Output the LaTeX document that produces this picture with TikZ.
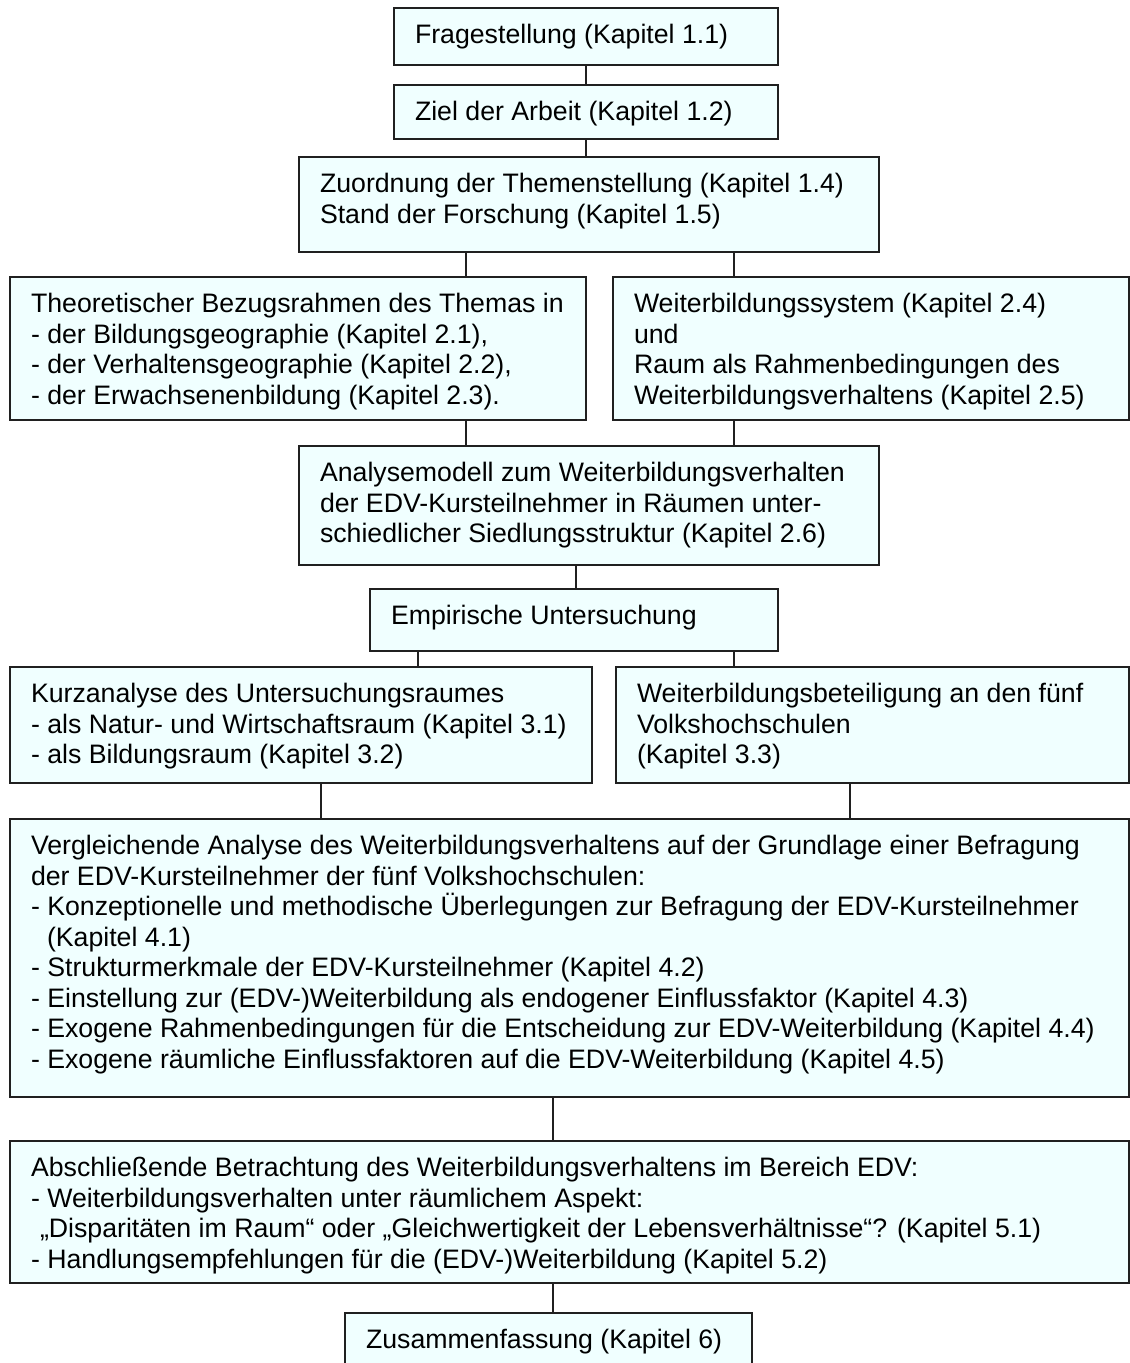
\documentclass[tikz,border=0pt]{standalone}
\usepackage{fontspec}
\setmainfont{Liberation Sans}
\definecolor{boxfill}{HTML}{F0FFFF}
\definecolor{boxline}{HTML}{202020}
\tikzset{
  bx/.style={draw=boxline, fill=boxfill, line width=1.3pt, inner sep=0pt, outer sep=0pt, anchor=north west},
  txt/.style={inner sep=0pt, outer sep=0pt, anchor=north west, align=left, font=\fontsize{26.7}{30.5}\selectfont},
  conn/.style={draw=boxline, line width=1.3pt}
}
\newcommand\mkbox[6]{%
  \node[bx, minimum width=#4pt-#2pt, minimum height=#5pt-#3pt] (#1) at (#2,#3) {};
  \node[txt] (#1t) at ([shift={(21pt,-13.5pt)}]#1.north west) {\rule{0pt}{22pt}#6};
}
\begin{document}
\begin{tikzpicture}[x=1pt,y=-1pt]
\clip (0,0) rectangle (1130,1363);
\fill[white] (0,0) rectangle (1130,1363);
\mkbox{b1}{394}{8}{778}{65}{Fragestellung (Kapitel 1.1)}
\mkbox{b2}{394}{85}{778}{139}{Ziel der Arbeit (Kapitel 1.2)}
\mkbox{b3}{299}{157}{879}{252}{Zuordnung der Themenstellung (Kapitel 1.4)\\Stand der Forschung (Kapitel 1.5)}
\mkbox{b4}{10}{277}{586}{420}{Theoretischer Bezugsrahmen des Themas in\\- der Bildungsgeographie (Kapitel 2.1),\\- der Verhaltensgeographie (Kapitel 2.2),\\- der Erwachsenenbildung (Kapitel 2.3).}
\mkbox{b5}{613}{277}{1129}{420}{Weiterbildungssystem (Kapitel 2.4)\\und\\Raum als Rahmenbedingungen des\\Weiterbildungsverhaltens (Kapitel 2.5)}
\mkbox{b6}{299}{446}{879}{565}{Analysemodell zum Weiterbildungsverhalten\\der EDV-Kursteilnehmer in Räumen unter-\\schiedlicher Siedlungsstruktur (Kapitel 2.6)}
\mkbox{b7}{370}{589}{778}{651}{Empirische Untersuchung}
\mkbox{b8}{10}{667}{592}{783}{Kurzanalyse des Untersuchungsraumes\\- als Natur- und Wirtschaftsraum (Kapitel 3.1)\\- als Bildungsraum (Kapitel 3.2)}
\mkbox{b9}{616}{667}{1129}{783}{Weiterbildungsbeteiligung an den fünf\\Volkshochschulen\\(Kapitel 3.3)}
\mkbox{b10}{10}{819}{1129}{1097}{Vergleichende Analyse des Weiterbildungsverhaltens auf der Grundlage einer Befragung\\der EDV-Kursteilnehmer der fünf Volkshochschulen:\\- Konzeptionelle und methodische Überlegungen zur Befragung der EDV-Kursteilnehmer\\\hspace*{16pt}(Kapitel 4.1)\\- Strukturmerkmale der EDV-Kursteilnehmer (Kapitel 4.2)\\- Einstellung zur (EDV-)Weiterbildung als endogener Einflussfaktor (Kapitel 4.3)\\- Exogene Rahmenbedingungen für die Entscheidung zur EDV-Weiterbildung (Kapitel 4.4)\\- Exogene räumliche Einflussfaktoren auf die EDV-Weiterbildung (Kapitel 4.5)}
\mkbox{b11}{10}{1141}{1129}{1283}{Abschließende Betrachtung des Weiterbildungsverhaltens im Bereich EDV:\\- Weiterbildungsverhalten unter räumlichem Aspekt:\\\hspace*{9pt}„Disparitäten im Raum“ oder „Gleichwertigkeit der Lebensverhältnisse“? (Kapitel 5.1)\\- Handlungsempfehlungen für die (EDV-)Weiterbildung (Kapitel 5.2)}
\mkbox{b12}{345}{1313}{752}{1385}{Zusammenfassung (Kapitel 6)}
% connector x positions
\coordinate (xa) at (586,0);
\coordinate (xb) at (466,0);
\coordinate (xc) at (734,0);
\coordinate (xd) at (576,0);
\coordinate (xe) at (418,0);
\coordinate (xf) at (321,0);
\coordinate (xg) at (850,0);
\coordinate (xh) at (553,0);
\draw[conn] (b1.south -| xa) -- (b2.north -| xa);
\draw[conn] (b2.south -| xa) -- (b3.north -| xa);
\draw[conn] (b3.south -| xb) -- (b4.north -| xb);
\draw[conn] (b3.south -| xc) -- (b5.north -| xc);
\draw[conn] (b4.south -| xb) -- (b6.north -| xb);
\draw[conn] (b5.south -| xc) -- (b6.north -| xc);
\draw[conn] (b6.south -| xd) -- (b7.north -| xd);
\draw[conn] (b7.south -| xe) -- (b8.north -| xe);
\draw[conn] (b7.south -| xc) -- (b9.north -| xc);
\draw[conn] (b8.south -| xf) -- (b10.north -| xf);
\draw[conn] (b9.south -| xg) -- (b10.north -| xg);
\draw[conn] (b10.south -| xh) -- (b11.north -| xh);
\draw[conn] (b11.south -| xh) -- (b12.north -| xh);
\end{tikzpicture}
\end{document}
